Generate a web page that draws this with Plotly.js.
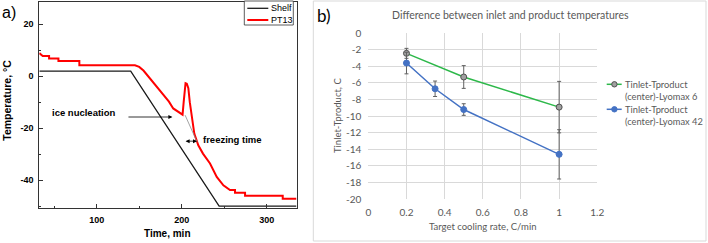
<!DOCTYPE html>
<html>
<head>
<meta charset="utf-8">
<script src="https://cdn.plot.ly/plotly-3.0.1.min.js"></script>
<style>html,body{margin:0;padding:0;background:#fff;}#chart{width:708px;height:243px;}</style>
</head>
<body>
<div id="chart"></div>
<script>
// ---- Panel a) data ----
const shelfTime = [32.5, 140, 244, 335];
const shelfTemp = [2, 2, -50, -50];
const pt13Time = [32.5, 36.5, 44, 44, 55, 55, 79.6, 79.6, 145, 150, 155, 162.7, 168, 174.5, 180, 185, 190, 196, 200, 201, 202.3, 203.3, 204.5, 206, 207.8, 209.5, 211.8, 214.8, 219.5, 225, 233.3, 241.2, 249, 256.8, 262.7, 262.7, 274.5, 274.5, 318.8, 318.8, 335];
const pt13Temp = [8.9, 7.8, 7.8, 6.8, 6.8, 5.9, 5.9, 4.2, 4.2, 3.6, 2.2, -0.8, -3.0, -5.3, -7.6, -9.8, -12.4, -13.8, -14.6, -14.8, -10, -4.5, -2.7, -2.9, -4.6, -10, -16.3, -22.1, -26.6, -29.8, -33.6, -38.8, -42.0, -43.8, -43.8, -44.9, -44.9, -46.0, -46.0, -47.2, -47.2];
const xTickValsA = [100, 200, 300];
const xTickLabelsA = ['100', '200', '300'];
const yTickValsA = [20, 0, -20, -40];
const yTickLabelsA = ['20', '0', '-20', '-40'];
const seriesNamesA = ['Shelf', 'PT13'];

// ---- Panel b) data ----
const rateLyo6 = [0.2, 0.5, 1.0];
const diffLyo6 = [-2.45, -5.3, -8.93];
const errLyo6 = [0.6, 1.37, 3.1];
const rateLyo42 = [0.2, 0.35, 0.5, 1.0];
const diffLyo42 = [-3.62, -6.72, -9.22, -14.62];
const errLyo42 = [1.3, 0.93, 0.7, 2.97];
const xTickValsB = [0, 0.2, 0.4, 0.6, 0.8, 1.0, 1.2];
const xTickLabelsB = ['0', '0.2', '0.4', '0.6', '0.8', '1', '1.2'];
const yTickValsB = [0, -2, -4, -6, -8, -10, -12, -14, -16, -18, -20];
const yTickLabelsB = ['0', '-2', '-4', '-6', '-8', '-10', '-12', '-14', '-16', '-18', '-20'];
const legendLinesB = [['Tinlet-Tproduct', '(center)-Lyomax 6'], ['Tinlet-Tproduct', '(center)-Lyomax 42']];

// ---- helpers (pixel -> paper) ----
const W = 708, H = 243;
const px = x => x / W;
const py = y => 1 - y / H;

const boldA = {family: 'Liberation Sans, Arial, sans-serif', size: 9, color: '#000', weight: 'bold'};
const fontB = {family: 'Lato, Open Sans, sans-serif', size: 10, color: '#595959'};
const legFontB = {family: 'Lato, Open Sans, sans-serif', size: 9.3, color: '#595959'};

const traces = [
  {x: shelfTime, y: shelfTemp, type: 'scatter', mode: 'lines', name: seriesNamesA[0],
   line: {color: '#1a1a1a', width: 1.3}, xaxis: 'x', yaxis: 'y', hoverinfo: 'skip'},
  {x: pt13Time, y: pt13Temp, type: 'scatter', mode: 'lines', name: seriesNamesA[1],
   line: {color: '#ff0000', width: 2}, xaxis: 'x', yaxis: 'y', hoverinfo: 'skip'},
  {x: rateLyo6, y: diffLyo6, type: 'scatter', mode: 'lines+markers', name: legendLinesB[0].join(' '),
   line: {color: '#2db84a', width: 1.5},
   marker: {symbol: 'circle', size: 6, color: '#a0a0a0', line: {color: '#505050', width: 1}},
   error_y: {type: 'data', array: errLyo6, visible: true, color: '#606060', thickness: 1, width: 2},
   xaxis: 'x2', yaxis: 'y2'},
  {x: rateLyo42, y: diffLyo42, type: 'scatter', mode: 'lines+markers', name: legendLinesB[1].join(' '),
   line: {color: '#4472c4', width: 1.5},
   marker: {symbol: 'circle', size: 6, color: '#4472c4', line: {color: '#4472c4', width: 1}},
   error_y: {type: 'data', array: errLyo42, visible: true, color: '#606060', thickness: 1, width: 2},
   xaxis: 'x2', yaxis: 'y2'}
];

const shapes = [
  {type: 'rect', xref: 'paper', yref: 'paper', x0: px(313.3), x1: px(706), y0: py(241), y1: py(1),
   line: {color: '#d9d9d9', width: 1}, fillcolor: 'rgba(0,0,0,0)', layer: 'below'},
  {type: 'line', xref: 'x', yref: 'y', x0: 204, y0: -15.0, x1: 218.2, y1: -25.4,
   line: {color: '#8c8c8c', width: 0.8}},
  {type: 'rect', xref: 'paper', yref: 'paper', x0: px(244.3), x1: px(293.3), y0: py(25), y1: py(1),
   line: {color: '#333', width: 0.8}, fillcolor: '#fff'},
  {type: 'line', xref: 'paper', yref: 'paper', x0: px(247.3), x1: px(268.3), y0: py(8.3), y1: py(8.3),
   line: {color: '#1a1a1a', width: 1.3}},
  {type: 'line', xref: 'paper', yref: 'paper', x0: px(247.3), x1: px(268.3), y0: py(20), y1: py(20),
   line: {color: '#ff0000', width: 2}},
  {type: 'line', xref: 'paper', yref: 'paper', x0: px(606.7), x1: px(621.7), y0: py(84.3), y1: py(84.3),
   line: {color: '#2db84a', width: 1.5}},
  {type: 'circle', xref: 'paper', yref: 'paper', x0: px(611.7), x1: px(617.1), y0: py(87), y1: py(81.6),
   line: {color: '#505050', width: 1}, fillcolor: '#a0a0a0'},
  {type: 'line', xref: 'paper', yref: 'paper', x0: px(606.7), x1: px(621.7), y0: py(109.3), y1: py(109.3),
   line: {color: '#4472c4', width: 1.5}},
  {type: 'circle', xref: 'paper', yref: 'paper', x0: px(611.7), x1: px(617.1), y0: py(112), y1: py(106.6),
   line: {color: '#4472c4', width: 1}, fillcolor: '#4472c4'}
];

const ann = (o) => Object.assign({showarrow: false, borderpad: 0}, o);
const annotations = [
  ann({text: 'a)', xref: 'paper', yref: 'paper', x: px(1), y: py(13), xanchor: 'left', yanchor: 'middle',
       font: {family: 'Liberation Sans, Arial, sans-serif', size: 16, color: '#000'}}),
  ann({text: 'b)', xref: 'paper', yref: 'paper', x: px(316), y: py(15), xanchor: 'left', yanchor: 'middle',
       font: {family: 'Lato, Open Sans, sans-serif', size: 17, color: '#000'}}),
  ann({text: 'Temperature, °C', xref: 'paper', yref: 'paper', x: px(6.7), y: py(100), textangle: -90,
       xanchor: 'center', yanchor: 'middle', font: Object.assign({}, boldA, {size: 10.5})}),
  ann({text: 'Time, min', xref: 'paper', yref: 'paper', x: px(167.5), y: py(233), xanchor: 'center', yanchor: 'middle',
       font: Object.assign({}, boldA, {size: 10})}),
  ann({text: 'ice nucleation', xref: 'x', yref: 'y', x: 85.3, y: -14.0, xanchor: 'center', yanchor: 'middle',
       font: Object.assign({}, boldA, {size: 9.5})}),
  ann({text: 'freezing time', xref: 'x', yref: 'y', x: 223.5, y: -24.5, xanchor: 'left', yanchor: 'middle',
       font: Object.assign({}, boldA, {size: 9.5})}),
  {text: '', xref: 'x', yref: 'y', axref: 'x', ayref: 'y', x: 189, y: -15.7, ax: 135.6, ay: -15.7,
   showarrow: true, arrowhead: 2, arrowsize: 1, arrowwidth: 0.8, arrowcolor: '#000'},
  {text: '', xref: 'x', yref: 'y', axref: 'x', ayref: 'y', x: 218, y: -25, ax: 202.8, ay: -25,
   showarrow: true, arrowhead: 2, startarrowhead: 2, arrowside: 'end+start', arrowsize: 1, arrowwidth: 0.8, arrowcolor: '#000'},
  ann({text: seriesNamesA[0], xref: 'paper', yref: 'paper', x: px(269.5), y: py(8.3), xanchor: 'left', yanchor: 'middle',
       font: {family: 'Liberation Sans, Arial, sans-serif', size: 9, color: '#000'}}),
  ann({text: seriesNamesA[1], xref: 'paper', yref: 'paper', x: px(269.5), y: py(20), xanchor: 'left', yanchor: 'middle',
       font: {family: 'Liberation Sans, Arial, sans-serif', size: 9, color: '#000'}}),
  ann({text: 'Difference between inlet and product temperatures', xref: 'paper', yref: 'paper', x: px(510), y: py(15),
       xanchor: 'center', yanchor: 'middle', font: Object.assign({}, fontB, {size: 10.5})}),
  ann({text: 'Target cooling rate, C/min', xref: 'paper', yref: 'paper', x: px(482.8), y: py(226),
       xanchor: 'center', yanchor: 'middle', font: Object.assign({}, fontB, {size: 9.5})}),
  ann({text: 'Tinlet-Tproduct, C', xref: 'paper', yref: 'paper', x: px(337), y: py(116), textangle: -90,
       xanchor: 'center', yanchor: 'middle', font: Object.assign({}, fontB, {size: 9.5})}),
  ann({text: legendLinesB[0][0], xref: 'paper', yref: 'paper', x: px(624), y: py(84.3), xanchor: 'left', yanchor: 'middle', font: legFontB}),
  ann({text: legendLinesB[0][1], xref: 'paper', yref: 'paper', x: px(624), y: py(96), xanchor: 'left', yanchor: 'middle', font: legFontB}),
  ann({text: legendLinesB[1][0], xref: 'paper', yref: 'paper', x: px(624), y: py(109.3), xanchor: 'left', yanchor: 'middle', font: legFontB}),
  ann({text: legendLinesB[1][1], xref: 'paper', yref: 'paper', x: px(624), y: py(121), xanchor: 'left', yanchor: 'middle', font: legFontB})
];

const layout = {
  width: W, height: H,
  margin: {l: 0, r: 0, t: 0, b: 0, pad: 0},
  paper_bgcolor: '#fff', plot_bgcolor: '#fff',
  showlegend: false,
  xaxis: {domain: [px(39.3), px(296.5)], range: [32.5, 335], anchor: 'y',
    tickmode: 'array', tickvals: xTickValsA, ticktext: xTickLabelsA,
    ticks: 'inside', ticklen: 4, tickwidth: 1, tickcolor: '#333',
    minor: {tickmode: 'array', tickvals: [50, 150, 250], ticks: 'inside', ticklen: 2, tickcolor: '#333'},
    showline: true, mirror: true, linecolor: '#333', linewidth: 1,
    showgrid: false, zeroline: false, tickfont: boldA, ticklabelstandoff: 3},
  yaxis: {domain: [py(208), py(2)], range: [-50.75, 28.6], anchor: 'x',
    tickmode: 'array', tickvals: yTickValsA, ticktext: yTickLabelsA,
    ticks: 'inside', ticklen: 4, tickwidth: 1, tickcolor: '#333',
    minor: {tickmode: 'array', tickvals: [10, -10, -30, -50], ticks: 'inside', ticklen: 2, tickcolor: '#333'},
    showline: true, mirror: true, linecolor: '#333', linewidth: 1,
    showgrid: false, zeroline: false, tickfont: boldA, ticklabelstandoff: 3},
  xaxis2: {domain: [px(368.3), px(597.3)], range: [0, 1.2], anchor: 'y2',
    tickmode: 'array', tickvals: xTickValsB, ticktext: xTickLabelsB,
    ticks: '', showline: false, showgrid: true, gridcolor: '#d9d9d9', gridwidth: 1,
    zeroline: false, tickfont: fontB, ticklabelstandoff: 6},
  yaxis2: {domain: [py(199), py(33)], range: [-20, 0], anchor: 'x2',
    tickmode: 'array', tickvals: yTickValsB, ticktext: yTickLabelsB,
    ticks: '', showline: false, showgrid: true, gridcolor: '#d9d9d9', gridwidth: 1,
    zeroline: false, tickfont: fontB, ticklabelstandoff: 6},
  shapes: shapes,
  annotations: annotations
};

Plotly.newPlot('chart', traces, layout, {staticPlot: true, displayModeBar: false});
</script>
</body>
</html>
